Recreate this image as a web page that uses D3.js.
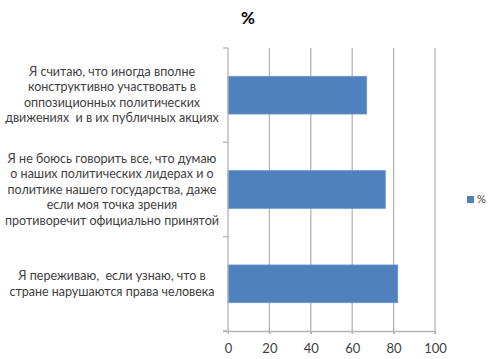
<!DOCTYPE html>
<html><head><meta charset="utf-8">
<script src="https://cdn.jsdelivr.net/npm/d3@7"></script>
<style>body{margin:0;background:#fff}</style>
</head><body>
<script>
const categories = [
  ["Я считаю, что иногда вполне", "конструктивно участвовать в", "оппозиционных политических", "движениях  и в их публичных акциях"],
  ["Я не боюсь говорить все, что думаю", "о наших политических лидерах и о", "политике нашего государства, даже", "если моя точка зрения", "противоречит официально принятой"],
  ["Я переживаю,  если узнаю, что в", "стране нарушаются права человека"]
];
const values = [67, 76, 82];
const xTicks = [0, 20, 40, 60, 80, 100];
const seriesName = "%";
const title = "%";

const W = 494, H = 359;
const m = {left: 228, right: 59, top: 48, bottom: 28};
const font = "Lato, 'Open Sans', sans-serif";
const svg = d3.select("body").append("svg").attr("width", W).attr("height", H);

const x = d3.scaleLinear().domain([0, 100]).range([m.left, W - m.right]);
const yb = d3.scaleBand().domain(d3.range(categories.length)).range([m.top, H - m.bottom]);
const y = d3.scaleBand().domain(d3.range(categories.length)).range([m.top, H - m.bottom]).paddingInner(0.6).paddingOuter(0.3);

// gridlines
svg.append("g").selectAll("line").data(xTicks.slice(1)).join("line")
  .attr("x1", d => x(d)).attr("x2", d => x(d))
  .attr("y1", m.top).attr("y2", H - m.bottom + 3)
  .attr("stroke", "#b4b4b4").attr("stroke-width", 1.3);

// bars
svg.append("g").selectAll("rect").data(values).join("rect")
  .attr("x", x(0)).attr("y", (d, i) => y(i))
  .attr("width", d => x(d) - x(0)).attr("height", y.bandwidth())
  .attr("fill", "#4f81bd").attr("stroke", "#6a97cc").attr("stroke-width", 0.8);

// x axis
const xa = svg.append("g").attr("transform", `translate(0,${H - m.bottom})`)
  .call(d3.axisBottom(x).tickValues(xTicks).tickSize(3).tickPadding(10));
xa.select(".domain").attr("stroke", "#b4b4b4").attr("stroke-width", 1.3).attr("d", `M${m.left - 5},0.5H${x(100)}`);
xa.selectAll(".tick line").attr("stroke", "#b4b4b4").attr("stroke-width", 1.3);
xa.selectAll(".tick text").attr("font-family", font).attr("font-size", 13).attr("fill", "#404040");

// y axis
const ya = svg.append("g").attr("transform", `translate(${m.left},0)`);
ya.append("line").attr("x1", 0).attr("x2", 0).attr("y1", m.top).attr("y2", H - m.bottom)
  .attr("stroke", "#b4b4b4").attr("stroke-width", 1.3);
const bounds = d3.range(categories.length).map(i => yb(i)).concat([H - m.bottom]);
ya.selectAll("line.t").data(bounds).join("line").attr("class", "t")
  .attr("x1", -5).attr("x2", 0).attr("y1", d => d).attr("y2", d => d)
  .attr("stroke", "#b4b4b4").attr("stroke-width", 1.3);

// category labels
const lh = 15.5;
const lab = svg.append("g");
categories.forEach((lines, i) => {
  const cy = yb(i) + yb.bandwidth() / 2;
  const t = lab.append("text").attr("font-family", font).attr("font-size", 12.5)
    .attr("fill", "#404040").attr("text-anchor", "middle").style("white-space", "pre");
  lines.forEach((s, j) => {
    t.append("tspan").attr("x", 112).attr("y", cy + (j - (lines.length - 1) / 2) * lh + 4).text(s);
  });
});

// title
svg.append("text").attr("x", 248).attr("y", 24).attr("text-anchor", "middle")
  .attr("font-family", font).attr("font-weight", "bold").attr("font-size", 17).attr("fill", "#000").text(title);

// legend
svg.append("rect").attr("x", 467).attr("y", 196).attr("width", 7).attr("height", 7).attr("fill", "#4f81bd");
svg.append("text").attr("x", 477).attr("y", 203).attr("font-family", font).attr("font-size", 11)
  .attr("fill", "#404040").text(seriesName);
</script>
</body></html>
